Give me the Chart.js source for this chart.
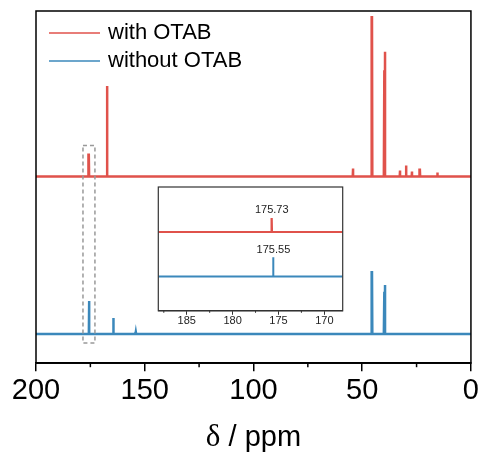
<!DOCTYPE html>
<html>
<head>
<meta charset="utf-8">
<script src="https://cdn.jsdelivr.net/npm/chart.js@4.4.0/dist/chart.umd.min.js"></script>
<style>
  body { margin: 0; background: #fff; }
  #wrap { position: relative; width: 481px; height: 454px; }
  #main { position: absolute; left: 0; top: 0; }
  #inset { position: absolute; left: 150px; top: 180px; }
</style>
</head>
<body>
<div id="wrap">
  <canvas id="main" width="481" height="454"></canvas>
  <canvas id="inset" width="200" height="150"></canvas>
</div>
<script>
// series names / colours
var seriesNames = ["with OTAB", "without OTAB"];
var seriesColors = ["#e0524b", "#3b88bb"];

// peaks (ppm, height above baseline)
var redPeakPpm = [175.73, 167.2, 54.2, 45.5, 39.9, 39.5, 32.6, 29.7, 27.1, 23.5, 15.3];
var redPeakHeight = [0.146, 0.575, 0.051, 1.019, 0.675, 0.792, 0.038, 0.07, 0.032, 0.051, 0.025];
var bluePeakPpm = [175.55, 164.3, 154.1, 45.5, 39.9, 39.5];
var bluePeakHeight = [0.21, 0.102, 0.013, 0.401, 0.268, 0.312];

// inset (zoom on the carbonyl region)
var insetPeakPpm = [175.73, 175.55];
var insetPeakHeight = [0.316, 0.436];
var insetPeakLabels = ["175.73", "175.55"];

// tick labels
var xTicks = [200, 150, 100, 50, 0];
var xMinorTicks = [175, 125, 75, 25];
var insetTicks = [185, 180, 175, 170];
var insetMinorTicks = [187.5, 182.5, 177.5, 172.5];

// spectrum trace: flat baseline with narrow spikes
function buildTrace(ppm, height, offset, lo, hi, hw) {
  var idx = ppm.map(function (p, i) { return i; });
  idx.sort(function (a, b) { return ppm[a] - ppm[b]; });
  var pts = [{ x: lo, y: offset }];
  idx.forEach(function (i) {
    pts.push({ x: ppm[i] - hw, y: offset });
    pts.push({ x: ppm[i], y: offset + height[i] });
    pts.push({ x: ppm[i] + hw, y: offset });
  });
  pts.push({ x: hi, y: offset });
  return pts;
}

function minorTicks(chart, values, len, color, width) {
  var ctx = chart.ctx, x = chart.scales.x, b = chart.chartArea.bottom;
  ctx.save();
  ctx.strokeStyle = color;
  ctx.lineWidth = width;
  values.forEach(function (v) {
    var px = x.getPixelForValue(v);
    ctx.beginPath();
    ctx.moveTo(px, b);
    ctx.lineTo(px, b + len);
    ctx.stroke();
  });
  ctx.restore();
}

var mainDecor = {
  id: "mainDecor",
  afterDraw: function (chart) {
    var ctx = chart.ctx, a = chart.chartArea;
    var x = chart.scales.x, y = chart.scales.y;
    ctx.save();
    // frame
    ctx.strokeStyle = "#000";
    ctx.lineWidth = 1.5;
    ctx.strokeRect(a.left, a.top, a.right - a.left, a.bottom - a.top);
    // dashed box round the 175 ppm peaks
    ctx.strokeStyle = "#999";
    ctx.setLineDash([4, 3]);
    var x1 = x.getPixelForValue(178.4), x2 = x.getPixelForValue(172.9);
    var y1 = y.getPixelForValue(1.197), y2 = y.getPixelForValue(-0.057);
    ctx.strokeRect(x1, y1, x2 - x1, y2 - y1);
    ctx.setLineDash([]);
    // legend
    ctx.font = "22px 'Liberation Sans', Arial";
    ctx.textBaseline = "middle";
    ctx.fillStyle = "#000";
    seriesNames.forEach(function (n, i) {
      var ly = a.top + 22 + i * 28;
      ctx.strokeStyle = seriesColors[i];
      ctx.lineWidth = 1.5;
      ctx.beginPath();
      ctx.moveTo(a.left + 13, ly);
      ctx.lineTo(a.left + 64, ly);
      ctx.stroke();
      ctx.fillText(n, a.left + 72, ly);
    });
    // axis title
    var t1 = "δ", t2 = " / ppm";
    ctx.font = "31px 'Liberation Serif', serif";
    var w1 = ctx.measureText(t1).width;
    ctx.font = "29px 'Liberation Sans', Arial";
    var w2 = ctx.measureText(t2).width;
    var sx = (a.left + a.right) / 2 - (w1 + w2) / 2, ty = chart.height - 16;
    ctx.font = "31px 'Liberation Serif', serif";
    ctx.fillText(t1, sx, ty);
    ctx.font = "29px 'Liberation Sans', Arial";
    ctx.fillText(t2, sx + w1, ty);
    ctx.restore();
    minorTicks(chart, xMinorTicks, 4, "#000", 1.5);
  }
};

var insetDecor = {
  id: "insetDecor",
  beforeDraw: function (chart) {
    var ctx = chart.ctx, a = chart.chartArea;
    ctx.save();
    ctx.fillStyle = "#fff";
    ctx.fillRect(a.left, a.top, a.right - a.left, a.bottom - a.top);
    ctx.restore();
  },
  afterDraw: function (chart) {
    var ctx = chart.ctx, a = chart.chartArea;
    var x = chart.scales.x, y = chart.scales.y;
    ctx.save();
    ctx.strokeStyle = "#333";
    ctx.lineWidth = 1.2;
    ctx.strokeRect(a.left, a.top, a.right - a.left, a.bottom - a.top);
    ctx.font = "11px 'Liberation Sans', Arial";
    ctx.fillStyle = "#222";
    ctx.textAlign = "center";
    ctx.textBaseline = "bottom";
    var offs = [1, 0];
    insetPeakLabels.forEach(function (lab, i) {
      var px = x.getPixelForValue(insetPeakPpm[i]);
      var py = y.getPixelForValue(offs[i] + insetPeakHeight[i]);
      ctx.fillText(lab, px, py - 2);
    });
    ctx.restore();
    minorTicks(chart, insetMinorTicks, 2, "#333", 1);
  }
};

new Chart(document.getElementById("main").getContext("2d"), {
  type: "line",
  data: {
    datasets: [
      {
        label: seriesNames[1],
        data: buildTrace(bluePeakPpm, bluePeakHeight, 0, 0, 200, 0.15),
        borderColor: seriesColors[1],
        borderWidth: 2.5,
        pointRadius: 0,
        tension: 0,
      },
      {
        label: seriesNames[0],
        data: buildTrace(redPeakPpm, redPeakHeight, 1, 0, 200, 0.15),
        borderColor: seriesColors[0],
        borderWidth: 2.5,
        pointRadius: 0,
        tension: 0,
      },
    ],
  },
  options: {
    responsive: false,
    animation: false,
    layout: { padding: { left: 36, right: 9, top: 11, bottom: 44 } },
    plugins: { legend: { display: false }, tooltip: { enabled: false } },
    scales: {
      x: {
        type: "linear",
        reverse: true,
        min: 0,
        max: 200,
        afterBuildTicks: function (s) {
          s.ticks = xTicks.map(function (v) { return { value: v }; });
        },
        grid: { drawOnChartArea: false, color: "#000", lineWidth: 1.5, tickLength: 8 },
        border: { color: "#000", width: 1.5 },
        ticks: {
          color: "#000",
          padding: 2,
          maxRotation: 0,
          font: { family: "'Liberation Sans', Arial", size: 29 },
        },
      },
      y: { display: false, min: -0.185, max: 2.051 },
    },
  },
  plugins: [mainDecor],
});

new Chart(document.getElementById("inset").getContext("2d"), {
  type: "line",
  data: {
    datasets: [
      {
        label: seriesNames[0],
        data: buildTrace([insetPeakPpm[0]], [insetPeakHeight[0]], 1, 168, 188.1, 0.03),
        borderColor: seriesColors[0],
        borderWidth: 2,
        pointRadius: 0,
      },
      {
        label: seriesNames[1],
        data: buildTrace([insetPeakPpm[1]], [insetPeakHeight[1]], 0, 168, 188.1, 0.03),
        borderColor: seriesColors[1],
        borderWidth: 2,
        pointRadius: 0,
      },
    ],
  },
  options: {
    responsive: false,
    animation: false,
    layout: { padding: { left: 8.3, right: 7.3, top: 7, bottom: 2 } },
    plugins: { legend: { display: false }, tooltip: { enabled: false } },
    scales: {
      x: {
        type: "linear",
        reverse: true,
        min: 168,
        max: 188.1,
        afterBuildTicks: function (s) {
          s.ticks = insetTicks.map(function (v) { return { value: v }; });
        },
        grid: { drawOnChartArea: false, color: "#333", lineWidth: 1, tickLength: 4 },
        border: { color: "#333", width: 1.2 },
        ticks: {
          color: "#222",
          padding: 0,
          maxRotation: 0,
          font: { family: "'Liberation Sans', Arial", size: 11 },
        },
      },
      y: { display: false, min: -0.767, max: 2.009 },
    },
  },
  plugins: [insetDecor],
});
</script>
</body>
</html>
